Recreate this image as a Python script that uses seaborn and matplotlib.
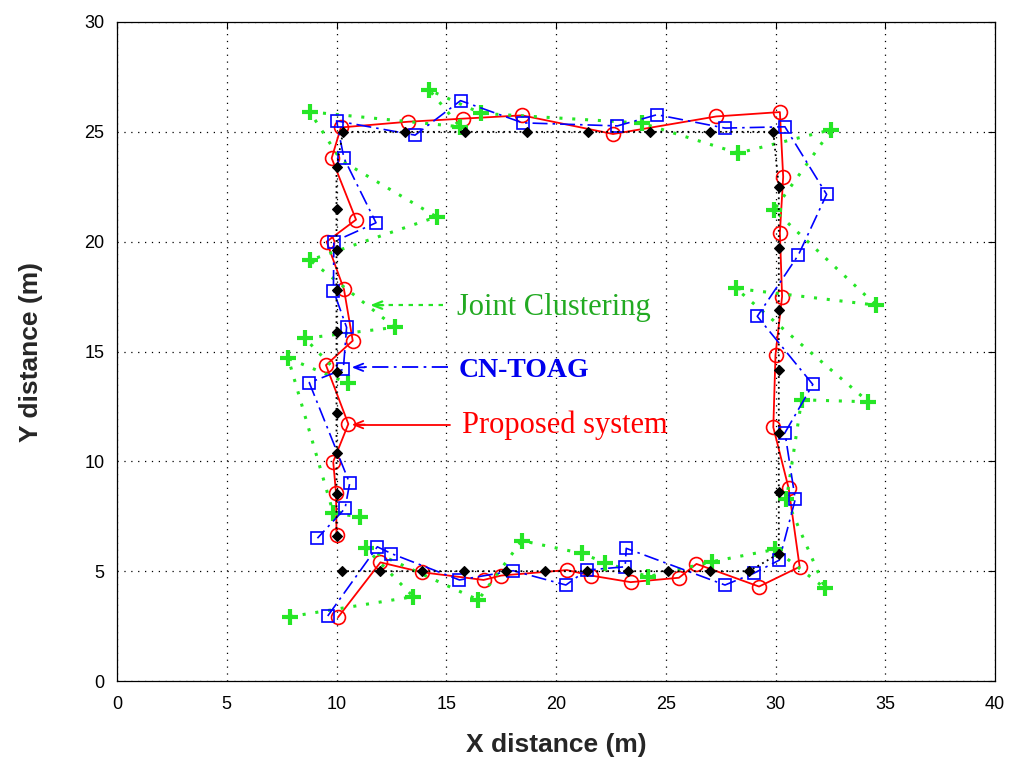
import matplotlib
matplotlib.use("Agg")
import matplotlib.pyplot as plt
import seaborn as sns

# Ground-truth route (black diamonds)
true_x = [10.24, 12.0, 13.9, 15.8, 17.7, 19.5, 21.4, 23.3, 25.1, 27.0, 28.8,
          30.15, 30.15, 30.15, 30.15, 30.15, 30.15, 30.15,
          29.9, 27.0, 24.3, 21.45, 18.7, 15.85, 13.1, 10.3,
          10.0, 10.0, 10.0, 10.0, 10.0, 10.0, 10.0, 10.0, 10.0, 10.0]
true_y = [5.0, 5.0, 5.0, 5.0, 5.0, 5.0, 5.0, 5.0, 5.0, 5.0, 5.0,
          5.8, 8.6, 11.3, 14.15, 16.9, 19.7, 22.5,
          25.0, 25.0, 25.0, 25.0, 25.0, 25.0, 25.0, 25.0,
          23.4, 21.5, 19.6, 17.8, 15.9, 14.05, 12.2, 10.4, 8.5, 6.6]

# Proposed system estimates
prop_x = [10.07, 12.0, 13.9, 16.7, 17.5, 20.5, 21.6, 23.4, 25.6, 26.4, 29.25, 31.1,
          30.6, 29.9, 30.0, 30.3, 30.2, 30.35, 30.2,
          27.3, 22.6, 18.45, 15.75, 13.27, 10.2,
          9.78, 10.89, 9.55, 10.34, 10.74, 9.52, 10.54, 9.85, 9.98, 10.0]
prop_y = [2.9, 5.4, 4.95, 4.6, 4.8, 5.05, 4.8, 4.5, 4.7, 5.33, 4.3, 5.2,
          8.77, 11.55, 14.85, 17.5, 20.4, 22.95, 25.9,
          25.7, 24.9, 25.75, 25.6, 25.46, 25.2,
          23.8, 21.0, 20.0, 17.83, 15.49, 14.38, 11.7, 9.98, 8.54, 6.65]

# CN-TOAG estimates
cn_x = [9.6, 11.86, 12.5, 15.6, 18.05, 20.45, 21.4, 23.15, 23.2, 27.7, 29.0, 30.17,
        30.9, 30.43, 31.7, 29.17, 31.04, 32.33, 30.43,
        27.7, 24.6, 22.8, 18.48, 15.65, 13.58, 10.0,
        10.34, 11.8, 9.88, 9.86, 10.46, 10.31, 8.76, 10.6, 10.39, 9.13]
cn_y = [2.96, 6.11, 5.8, 4.6, 5.02, 4.37, 5.05, 5.2, 6.04, 4.37, 4.9, 5.5,
        8.27, 11.3, 13.5, 16.6, 19.39, 22.15, 25.23,
        25.17, 25.78, 25.27, 25.41, 26.42, 24.85, 25.5,
        23.8, 20.86, 20.0, 17.77, 16.1, 14.19, 13.58, 9.0, 7.86, 6.5]

# Joint Clustering estimates
jc_x = [7.88, 13.5, 11.34, 16.46, 18.44, 21.17, 22.23, 24.2, 27.1, 29.98, 32.26,
        30.5, 31.19, 34.23, 28.2, 34.58, 29.93, 32.55,
        28.3, 23.9, 16.6, 14.23, 15.63, 8.79,
        10.2, 14.56, 8.79, 12.67, 8.56, 10.54, 7.8, 9.86, 11.07]
jc_y = [2.93, 3.84, 6.04, 3.69, 6.39, 5.81, 5.39, 4.75, 5.43, 5.99, 4.22,
        8.27, 12.8, 12.71, 17.87, 17.11, 21.44, 25.1,
        24.03, 25.4, 25.84, 26.9, 25.23, 25.91,
        23.7, 21.13, 19.16, 16.1, 15.6, 13.55, 14.69, 7.63, 7.48]
# the vertex near (10.2, 23.7) sits under the other markers
jc_marked = [i for i in range(len(jc_x)) if i != 24]

x_ticks = [0, 5, 10, 15, 20, 25, 30, 35, 40]
y_ticks = [0, 5, 10, 15, 20, 25, 30]

RED = "#FF0000"
BLUE = "#0000FF"
GREEN = "#26E626"
GREEN_TXT = "#22AA22"

sns.set_theme(style="white")
plt.rcParams["font.family"] = ["Liberation Sans", "DejaVu Sans"]

fig = plt.figure(figsize=(10.17, 7.64), dpi=100)
ax = fig.add_axes([117 / 1017, 1 - 681 / 764, (995 - 117) / 1017, (681 - 22) / 764])

sns.lineplot(x=prop_x, y=prop_y, sort=False, estimator=None, ax=ax,
             color=RED, linewidth=1.3, linestyle="-",
             marker="o", markersize=10, markerfacecolor="none",
             markeredgecolor=RED, markeredgewidth=1.2, zorder=3)

sns.lineplot(x=jc_x, y=jc_y, sort=False, estimator=None, ax=ax,
             color=GREEN, linewidth=2.2, linestyle=(0, (1, 3.2)),
             marker="+", markersize=11, markeredgecolor=GREEN,
             markeredgewidth=3, markevery=jc_marked, zorder=4)

sns.lineplot(x=cn_x, y=cn_y, sort=False, estimator=None, ax=ax,
             color=BLUE, linewidth=1.2, linestyle=(0, (9, 3, 1.5, 3)),
             marker="s", markersize=8, markerfacecolor="none",
             markeredgecolor=BLUE, markeredgewidth=1.2, zorder=5)

sns.lineplot(x=true_x, y=true_y, sort=False, estimator=None, ax=ax,
             color="black", linewidth=1.3, linestyle=(0, (1, 2)),
             marker="D", markersize=4.8, markerfacecolor="black",
             markeredgecolor="black", markeredgewidth=0.8, zorder=6)

ax.set_xlim(0, 40)
ax.set_ylim(0, 30)
ax.set_xticks(x_ticks)
ax.set_yticks(y_ticks)
ax.set_xticklabels([str(v) for v in x_ticks])
ax.set_yticklabels([str(v) for v in y_ticks])
ax.tick_params(direction="in", length=5, width=0.8, top=True, right=True,
               labelsize=13, pad=9, colors="black")
ax.tick_params(axis="x", pad=11)
ax.grid(True, color="black", linestyle=(0, (1, 4.5)), linewidth=0.9)
ax.set_axisbelow(True)
for sp in ax.spines.values():
    sp.set_color("black")
    sp.set_linewidth(0.9)

ax.set_xlabel("X distance (m)", fontsize=19, fontweight="bold", labelpad=14)
ax.set_ylabel("Y distance (m)", fontsize=19, fontweight="bold", labelpad=30)

# Callout labels with leader arrows
serif = ["Liberation Serif", "DejaVu Serif"]
callouts = [
    ("Joint Clustering", GREEN_TXT, "normal", 22, 15.47, 16.66, 14.86, 11.53, 17.11, GREEN, (0, (2, 2.5)), 1.6),
    ("CN-TOAG", "#0000EE", "bold", 20, 15.55, 13.85, 15.1, 10.69, 14.28, BLUE, (0, (9, 3, 1.5, 3)), 1.3),
    ("Proposed system", RED, "normal", 22, 15.7, 11.29, 15.17, 10.69, 11.67, RED, "-", 1.3),
]
for text, tcol, weight, size, tx, ty, ax0, tip, ay, lcol, ls, lw in callouts:
    ax.text(tx, ty, text, color=tcol, fontsize=size, fontweight=weight,
            family=serif, ha="left", va="baseline", zorder=8)
    ax.plot([ax0, tip + 0.2], [ay, ay], color=lcol, linestyle=ls, linewidth=lw, zorder=8)
    ax.annotate("", xy=(tip, ay), xytext=(tip + 0.6, ay),
                arrowprops=dict(arrowstyle="->,head_length=0.55,head_width=0.22",
                                color=lcol, lw=lw, shrinkA=0, shrinkB=0),
                zorder=8)

fig.savefig("out.png", dpi=100)
